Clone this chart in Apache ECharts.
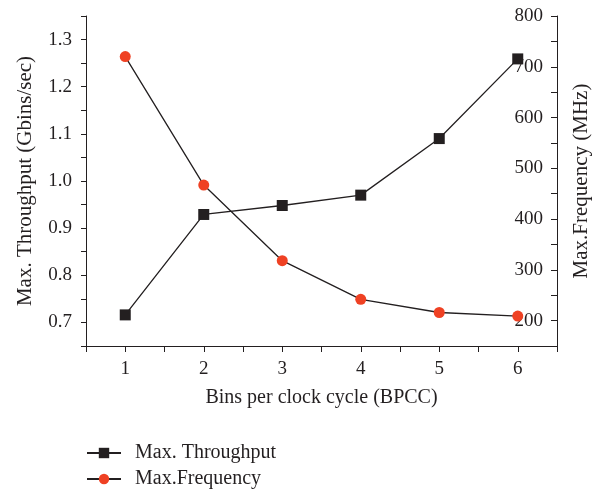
<!DOCTYPE html>
<html>
<head>
<meta charset="utf-8">
<script src="https://cdn.jsdelivr.net/npm/echarts@6/dist/echarts.min.js"></script>
<style>
    html, body { margin: 0; padding: 0; background: #fff; }
    #chart { width: 592px; height: 491px; }
</style>
</head>
<body>
<div id="chart"></div>
<script>
var bpcc = [1, 2, 3, 4, 5, 6];
var throughput = [0.716, 0.929, 0.948, 0.970, 1.090, 1.259];
var frequency = [720, 467, 318, 242, 216, 209];

var font = 'Liberation Serif';
var ink = '#231f20';

function pairs(xs, ys) {
    var out = [];
    for (var i = 0; i < xs.length; i++) {
        out.push([xs[i], ys[i]]);
    }
    return out;
}

var myChart = echarts.init(document.getElementById('chart'));

var option = {
    animation: false,
    textStyle: { fontFamily: font, color: ink },
    grid: { left: 86, right: 35, top: 16, bottom: 145, outerBoundsMode: 'none', containLabel: false },
    legend: {
        orient: 'vertical',
        left: 86,
        top: 443,
        padding: 0,
        itemWidth: 34,
        itemHeight: 13,
        itemGap: 6,
        textStyle: { fontFamily: font, fontSize: 20, lineHeight: 20, color: ink, padding: [0, 0, 0, 9] },
        data: ['Max. Throughput', 'Max.Frequency']
    },
    xAxis: {
        type: 'value',
        min: 0.5,
        max: 6.5,
        interval: 0.5,
        name: 'Bins per clock cycle (BPCC)',
        nameLocation: 'middle',
        nameGap: 42,
        nameTextStyle: { fontFamily: font, fontSize: 20, color: ink },
        splitLine: { show: false },
        axisLine: { lineStyle: { color: ink, width: 1 } },
        axisTick: { length: 6, lineStyle: { color: ink } },
        axisLabel: {
            margin: 14,
            fontFamily: font,
            fontSize: 19,
            color: ink,
            formatter: function (v) {
                return Math.abs(v - Math.round(v)) < 1e-6 ? String(Math.round(v)) : '';
            }
        }
    },
    yAxis: [
        {
            type: 'value',
            position: 'left',
            min: 0.65,
            max: 1.35,
            interval: 0.05,
            name: 'Max. Throughput (Gbins/sec)',
            nameLocation: 'middle',
            nameRotate: 90,
            nameGap: 50,
            nameTextStyle: { fontFamily: font, fontSize: 21, color: ink },
            splitLine: { show: false },
            axisLine: { show: true, lineStyle: { color: ink, width: 1 } },
            axisTick: { show: true, length: 5, lineStyle: { color: ink } },
            axisLabel: {
                margin: 14,
                fontFamily: font,
                fontSize: 19,
                color: ink,
                formatter: function (v) {
                    return Math.round(v * 100) % 10 === 0 ? v.toFixed(1) : '';
                }
            }
        },
        {
            type: 'value',
            position: 'right',
            min: 150,
            max: 800,
            interval: 50,
            name: 'Max.Frequency (MHz)',
            nameLocation: 'middle',
            nameRotate: 90,
            nameGap: 14,
            nameTextStyle: { fontFamily: font, fontSize: 21, color: ink },
            splitLine: { show: false },
            axisLine: { show: true, lineStyle: { color: ink, width: 1 } },
            axisTick: { show: true, inside: true, length: 6, lineStyle: { color: ink } },
            axisLabel: {
                inside: true,
                margin: 14,
                fontFamily: font,
                fontSize: 19,
                color: ink,
                formatter: function (v) {
                    return v % 100 === 0 ? String(v) : '';
                }
            }
        }
    ],
    series: [
        {
            name: 'Max. Throughput',
            type: 'line',
            yAxisIndex: 0,
            symbol: 'rect',
            symbolSize: 11,
            itemStyle: { color: '#231f20' },
            lineStyle: { color: '#231f20', width: 1.3 },
            data: pairs(bpcc, throughput)
        },
        {
            name: 'Max.Frequency',
            type: 'line',
            yAxisIndex: 1,
            symbol: 'circle',
            symbolSize: 11,
            itemStyle: { color: '#ef4123' },
            lineStyle: { color: '#231f20', width: 1.3 },
            data: pairs(bpcc, frequency)
        }
    ]
};

myChart.setOption(option);
</script>
</body>
</html>
